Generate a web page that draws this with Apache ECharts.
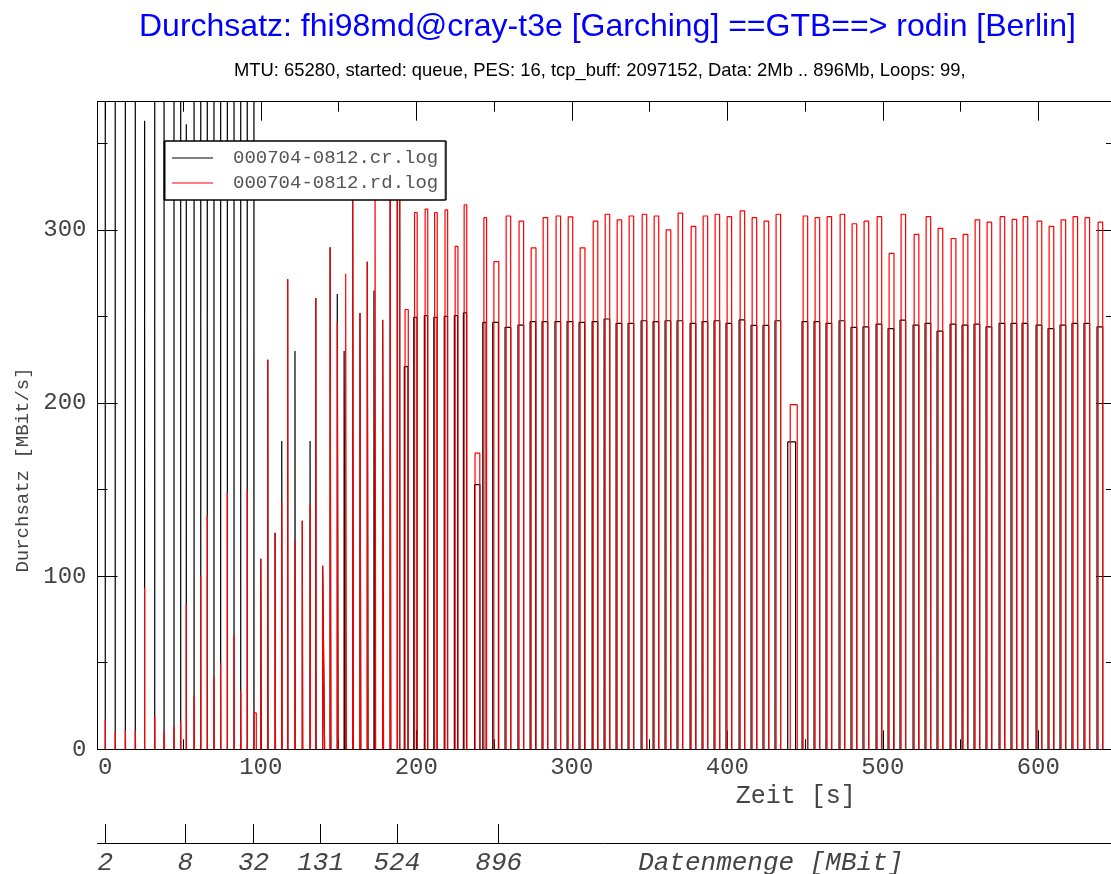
<!DOCTYPE html>
<html>
<head>
<meta charset="utf-8">
<title>Durchsatz fhi98md@cray-t3e -> rodin</title>
<script src="https://cdn.jsdelivr.net/npm/echarts@6/dist/echarts.min.js"></script>
<style>
  html, body { margin: 0; padding: 0; background: #ffffff; }
  #chart { width: 1111px; height: 874px; }
</style>
</head>
<body>
<div id="chart"></div>
<script>
// Per-loop measurements of the 99 transfer loops.
// Start times in seconds, data amount in MBit, throughput in MBit/s.
const crStart = [
  0.0, 6.4, 12.9, 19.3, 25.3, 31.8, 37.8, 44.2, 48.5, 52.1,
  57.1, 61.4, 65.6, 69.9, 74.2, 78.5, 82.8, 87.1, 91.3, 95.6,
  100.0, 104.5, 109.2, 113.5, 117.3, 122.0, 126.7, 131.7, 135.4, 139.8,
  144.6, 149.2, 153.6, 159.1, 163.8, 168.5, 172.8, 178.4, 183.2, 187.8,
  192.3, 198.4, 205.2, 211.3, 218.0, 224.5, 230.3, 237.5,
  242.8, 249.2, 257.1, 265.4, 273.2, 280.9, 289.2, 297.0, 304.7, 313.1,
  320.8, 328.5, 336.2, 344.6, 352.3, 360.0, 367.7, 376.1, 383.8, 391.5,
  399.2, 407.6, 415.3, 423.0, 430.7, 438.9, 448.1, 455.8, 463.5, 471.9,
  479.6, 487.3, 495.7, 503.4, 511.1, 519.5, 527.2, 534.9, 543.3, 551.0,
  558.7, 566.4, 574.8, 582.5, 589.6, 598.6, 606.3, 614.0, 621.7, 629.4,
  637.8
];
const rdStart = [
  0.0, 6.4, 12.9, 19.3, 25.3, 31.8, 37.8, 44.2, 48.5, 52.1,
  57.1, 61.4, 65.6, 69.9, 74.2, 78.5, 82.8, 87.1, 91.3, 95.6,
  100.0, 104.5, 109.2, 113.5, 117.3, 122.0, 126.7, 131.7, 135.4, 139.8,
  144.6, 149.2, 154.6, 159.1, 163.8, 168.5, 173.5, 178.4, 183.2, 187.8,
  192.8, 198.9, 205.7, 211.8, 218.5, 225.0, 230.8, 237.8,
  243.5, 249.9, 257.8, 266.1, 273.9, 281.6, 289.9, 297.7, 305.4, 313.8,
  321.5, 329.2, 336.9, 345.3, 353.0, 360.7, 368.4, 376.8, 384.5, 392.2,
  399.9, 408.3, 416.0, 423.7, 431.4, 440.5, 448.8, 456.5, 464.2, 472.6,
  480.3, 488.0, 496.4, 504.1, 511.8, 520.2, 527.9, 535.6, 544.0, 551.7,
  559.4, 567.1, 575.5, 583.2, 590.3, 599.3, 607.0, 614.7, 622.4, 630.1,
  638.5
];
const loopMbit = [
  2, 2, 2, 2, 2, 2, 2, 2, 2,
  8, 8, 8, 8, 8, 8, 8, 8, 8, 8,
  32, 32, 32, 32, 32, 32, 32, 32, 32, 32,
  131, 131, 131, 131, 131, 131, 131, 131, 131, 131,
  524, 524, 524, 524, 524, 524, 524, 524, 524, 524,
  896, 896, 896, 896, 896, 896, 896, 896, 896, 896,
  896, 896, 896, 896, 896, 896, 896, 896, 896, 896,
  896, 896, 896, 896, 896, 896, 896, 896, 896, 896,
  896, 896, 896, 896, 896, 896, 896, 896, 896, 896,
  896, 896, 896, 896, 896, 896, 896, 896, 896, 896
];
const crRate = [
  600, 600, 600, 600, 363, 600, 600, 600, 600, 361,
  600, 600, 600, 600, 600, 600, 600, 600, 600, 600,
  110, 225, 125, 178, 271.5, 230, 132, 178, 260.7, 106,
  290, 263, 230, 335, 252, 281.5, 265, 248, 330, 338,
  221, 249.5, 250.5, 249.5, 250, 250.5, 252, 152.8,
  246.5, 246.5, 243.7, 245, 247, 247, 247, 247, 246.5, 247,
  248.5, 246, 246, 247.5, 247, 247.5, 247.5, 246, 247, 247.5,
  246, 248, 244.8, 244.8, 247.5, 177.5, 247, 247, 246, 247.5,
  243.7, 244, 245.5, 243, 247.8, 245, 246, 241.5, 245.5, 245,
  245.5, 244, 246, 246, 246, 245, 243, 245, 246, 246,
  244
];
const rdRate = [
  17, 10, 11, 11, 93.5, 19, 10, 13, 16, 84,
  31, 100, 135, 42, 50, 148, 66, 34, 150, 21,
  110, 225, 125, 142.7, 271.5, 120, 132, 141, 260.7, 106,
  290, 246.8, 274.6, 335, 252, 281.5, 340, 248, 330, 338,
  254, 310, 312, 310, 311.5, 290.5, 314.5, 171,
  307, 281.6, 308, 305, 289.6, 307, 308, 307.5, 289.6, 305,
  309, 305.8, 308, 309, 308, 300, 309.6, 302, 308, 309,
  307.6, 311, 307, 305, 309, 199, 308, 307, 307.6, 309,
  303.5, 305, 307.6, 286.4, 309, 297.4, 307.6, 300.8, 295, 297.4,
  305.8, 304.4, 307.6, 306, 307.6, 305, 302, 305.8, 307.6, 307,
  304.4
];

// Axis ticks
const timeTicks = [0, 100, 200, 300, 400, 500, 600];
const timeMinorTicks = [50, 150, 250, 350, 450, 550];
const timeAllTicks = [0, 50, 100, 150, 200, 250, 300, 350, 400, 450, 500, 550, 600];
const rateTicks = [0, 100, 200, 300];
const rateMinorTicks = [50, 150, 250, 350];
const amountTickTimes = [0, 51.5, 95.4, 138.5, 187.5, 253];
const amountLabels = ['2', '8', '32', '131', '524', '896'];

const seriesNames = ['000704-0812.cr.log', '000704-0812.rd.log'];

// Each transfer is drawn as a rectangular pulse: up at its start,
// across for the transfer time (amount / rate), back down to zero.
function pulses(start, rate, mbit) {
  const pts = [];
  for (let i = 0; i < start.length; i++) {
    const t0 = start[i];
    const t1 = t0 + mbit[i] / rate[i];
    pts.push([t0, 0], [t0, rate[i]], [t1, rate[i]], [t1, 0], [t1, null]);
  }
  return pts;
}

const mono = '"Liberation Mono", "DejaVu Sans Mono", monospace';
const sans = '"Liberation Sans", Arial, sans-serif';
const textGrey = '#444';
const noSplit = { show: false };

// Plot frame: grid 0 carries the data and the labelled major ticks,
// grids 1 and 2 (same rectangle) carry the remaining tick sets.
const frameRect = { left: 97.5, right: -5, top: 101.7, bottom: 124.7,
                    outerBoundsMode: 'none', containLabel: false };

function timeAxis(grid, position, ticks, len) {
  return {
    gridIndex: grid, type: 'value', position: position, min: -5, max: 650,
    axisLine: { show: true, onZero: false, lineStyle: { color: '#000', width: 1 } },
    axisTick: { show: true, inside: true, length: len, customValues: ticks,
                lineStyle: { color: '#000', width: 1 } },
    axisLabel: { show: false },
    splitLine: noSplit
  };
}
function rateAxis(grid, position, ticks, len) {
  return {
    gridIndex: grid, type: 'value', position: position, min: 0, max: 374,
    axisLine: { show: true, onZero: false, lineStyle: { color: '#000', width: 1 } },
    axisTick: { show: true, inside: true, length: len, customValues: ticks,
                lineStyle: { color: '#000', width: 1 } },
    axisLabel: { show: false },
    splitLine: noSplit
  };
}

const xMain = timeAxis(0, 'bottom', timeTicks, 19);
xMain.axisLabel = { show: true, customValues: timeTicks, margin: 6,
                    color: textGrey, fontFamily: mono, fontSize: 24 };
xMain.name = 'Zeit [s]';
xMain.nameLocation = 'middle';
xMain.nameGap = 35;
xMain.nameMoveOverlap = false;
xMain.nameTextStyle = { color: textGrey, fontFamily: mono, fontSize: 25, padding: [0, 0, 0, 378] };

const yMain = rateAxis(0, 'left', rateTicks, 20);
yMain.axisLabel = { show: true, customValues: rateTicks, margin: 11,
                    color: textGrey, fontFamily: mono, fontSize: 24 };
yMain.name = 'Durchsatz [MBit/s]';
yMain.nameLocation = 'middle';
yMain.nameGap = 65;
yMain.nameMoveOverlap = false;
yMain.nameTextStyle = { color: textGrey, fontFamily: mono, fontSize: 19, padding: [0, 89, 0, 0] };

// Data amount scale underneath the time axis
const amountAxis = {
  gridIndex: 3, type: 'value', position: 'bottom', min: -5, max: 650,
  axisLine: { show: true, onZero: false, lineStyle: { color: '#000', width: 1 } },
  axisTick: { show: true, inside: true, length: 19, customValues: amountTickTimes,
              lineStyle: { color: '#000', width: 1 } },
  axisLabel: {
    show: true, customValues: amountTickTimes, margin: 7,
    color: textGrey, fontFamily: mono, fontSize: 26, fontStyle: 'italic',
    formatter: function (v) {
      const i = amountTickTimes.indexOf(v);
      return i >= 0 ? amountLabels[i] : '';
    }
  },
  splitLine: noSplit,
  name: 'Datenmenge [MBit]', nameLocation: 'middle', nameGap: 7, nameMoveOverlap: false,
  nameTextStyle: { color: textGrey, fontFamily: mono, fontSize: 26, fontStyle: 'italic',
                   verticalAlign: 'top', padding: [0, 0, 0, 328] }
};

const option = {
  animation: false,
  backgroundColor: '#ffffff',
  title: [
    { text: 'Durchsatz: fhi98md@cray-t3e [Garching] ==GTB==> rodin [Berlin]',
      left: 139, top: 11, padding: 0,
      textStyle: { color: '#0000ff', fontFamily: sans, fontSize: 32, fontWeight: 'normal' } },
    { text: 'MTU: 65280, started: queue, PES: 16, tcp_buff: 2097152, Data: 2Mb .. 896Mb, Loops: 99,',
      left: 234, top: 62, padding: 0,
      textStyle: { color: '#000', fontFamily: sans, fontSize: 18.4, fontWeight: 'normal' } }
  ],
  legend: {
    orient: 'vertical', left: 165, top: 141,
    data: seriesNames,
    icon: 'rect',
    backgroundColor: '#ffffff', borderColor: '#000', borderWidth: 1,
    shadowColor: '#000', shadowOffsetX: -1, shadowBlur: 0,
    padding: [7, 8, 7, 7], itemGap: 5, itemWidth: 41, itemHeight: 1,
    textStyle: { color: '#555', fontFamily: mono, fontSize: 19, lineHeight: 20, padding: [0, 0, 0, 15] }
  },
  grid: [
    Object.assign({}, frameRect),
    Object.assign({}, frameRect),
    Object.assign({}, frameRect),
    { left: 97.5, right: -5, top: 842, height: 1, outerBoundsMode: 'none', containLabel: false }
  ],
  xAxis: [
    xMain,
    timeAxis(1, 'bottom', timeMinorTicks, 10),
    timeAxis(1, 'top', timeAllTicks, 10),
    timeAxis(2, 'top', timeTicks, 19),
    amountAxis
  ],
  yAxis: [
    yMain,
    rateAxis(1, 'left', rateMinorTicks, 10),
    rateAxis(1, 'right', rateMinorTicks, 10),
    rateAxis(2, 'right', rateTicks, 20),
    { gridIndex: 3, type: 'value', show: false, min: 0, max: 1 }
  ],
  series: [
    { name: seriesNames[0], type: 'line', xAxisIndex: 0, yAxisIndex: 0,
      data: pulses(crStart, crRate, loopMbit),
      symbol: 'none', showSymbol: false, connectNulls: false, clip: true,
      lineStyle: { color: '#000000', width: 1.2 }, itemStyle: { color: '#000000' } },
    { name: seriesNames[1], type: 'line', xAxisIndex: 0, yAxisIndex: 0,
      data: pulses(rdStart, rdRate, loopMbit),
      symbol: 'none', showSymbol: false, connectNulls: false, clip: true,
      lineStyle: { color: '#ff0000', width: 1.2 }, itemStyle: { color: '#ff0000' } }
  ]
};

const chart = echarts.init(document.getElementById('chart'), null, { renderer: 'canvas' });
chart.setOption(option);
</script>
</body>
</html>
